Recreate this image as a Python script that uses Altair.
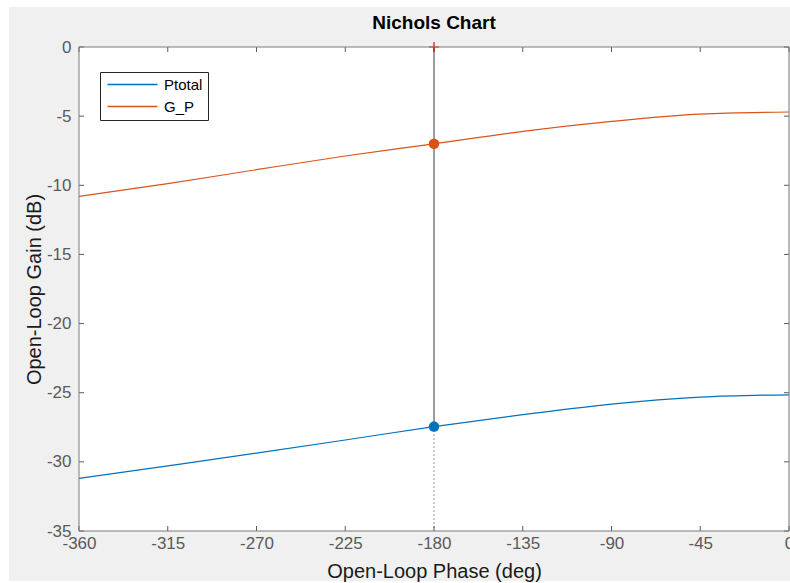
import altair as alt
import pandas as pd

# ---- data ----
phase = [-360, -315, -270, -225, -180, -135, -90, -45, 0]
ptotal = [-31.2, -30.29, -29.37, -28.42, -27.45, -26.59, -25.82, -25.32, -25.15]
g_p = [-10.8, -9.88, -8.87, -7.88, -7.0, -6.1, -5.38, -4.85, -4.7]
series_names = ["Ptotal", "G_P"]
series_colors = ["#0072BD", "#D95319"]

cursor_phase = [-180]
cursor_gain_ptotal = [-27.45]
cursor_gain_gp = [-7.0]

x_ticks = [-360, -315, -270, -225, -180, -135, -90, -45, 0]
y_ticks = [0, -5, -10, -15, -20, -25, -30, -35]
x_domain = [-360, 0]
y_domain = [-35, 0]

W, H = 710, 484
FONT = "Liberation Sans"

df = pd.DataFrame({
    "phase": phase + phase,
    "gain": ptotal + g_p,
    "series": [series_names[0]] * len(phase) + [series_names[1]] * len(phase),
})

xscale = alt.Scale(domain=x_domain, nice=False, zero=False)
yscale = alt.Scale(domain=y_domain, nice=False, zero=False)

x_axis = alt.Axis(values=x_ticks, tickSize=0, domain=False, grid=False, labelFlush=False,
                  labelExpr="toString(datum.value)",
                  labelFontSize=17, labelColor="#5a5a5a", labelPadding=4, labelFont=FONT,
                  title="Open-Loop Phase (deg)", titleFontSize=20, titleFontWeight="normal",
                  titleColor="#1a1a1a", titlePadding=10, titleFont=FONT, zindex=1)
y_axis = alt.Axis(values=y_ticks, tickSize=0, domain=False, grid=False, labelFlush=False,
                  labelExpr="toString(datum.value)",
                  labelFontSize=17, labelColor="#5a5a5a", labelPadding=8, labelFont=FONT,
                  title="Open-Loop Gain (dB)", titleFontSize=20, titleFontWeight="normal",
                  titleColor="#1a1a1a", titlePadding=2, titleFont=FONT, zindex=1)

X = alt.X("phase:Q", scale=xscale, axis=x_axis)
Y = alt.Y("gain:Q", scale=yscale, axis=y_axis)

one = alt.Data(values=[{}])

# figure background (gray) and white axes area
bg = alt.Chart(one).mark_rect(fill="#f0f0f0").encode(
    x=alt.value(-70), x2=alt.value(711), y=alt.value(-40), y2=alt.value(534))
plot_bg = alt.Chart(one).mark_rect(fill="white").encode(
    x=alt.value(0), x2=alt.value(W), y=alt.value(0), y2=alt.value(H))
border = alt.Chart(one).mark_rect(fillOpacity=0, stroke="#7a7a7a", strokeWidth=1).encode(
    x=alt.value(0), x2=alt.value(W), y=alt.value(0), y2=alt.value(H))

xt = pd.DataFrame({"phase": x_ticks})
yt = pd.DataFrame({"gain": y_ticks})
tick_color = "#5a5a5a"
xt_bottom = alt.Chart(xt).mark_rule(color=tick_color).encode(x=X, y=alt.value(H), y2=alt.value(H - 5))
xt_top = alt.Chart(xt).mark_rule(color=tick_color).encode(x=X, y=alt.value(0), y2=alt.value(5))
yt_left = alt.Chart(yt).mark_rule(color=tick_color).encode(y=Y, x=alt.value(0), x2=alt.value(5))
yt_right = alt.Chart(yt).mark_rule(color=tick_color).encode(y=Y, x=alt.value(W), x2=alt.value(W - 5))

lines = alt.Chart(df).mark_line(strokeWidth=1.2, interpolate="monotone").encode(
    x=X, y=Y,
    color=alt.Color("series:N", scale=alt.Scale(domain=series_names, range=series_colors),
                    legend=alt.Legend(orient="none", legendX=21, legendY=25, title=None,
                                      symbolType="M-1,0L9,0", symbolSize=100, symbolStrokeWidth=1.5,
                                      labelFontSize=15, labelFont=FONT, labelColor="black",
                                      strokeColor="#262626", fillColor="white", padding=5,
                                      rowPadding=6, labelOffset=44)),
    detail="series:N",
)

cur_top = pd.DataFrame({"phase": cursor_phase, "gain": [y_domain[1]], "g2": cursor_gain_ptotal})
cur_bot = pd.DataFrame({"phase": cursor_phase, "gain": cursor_gain_ptotal, "g2": [y_domain[0]]})
vline = alt.Chart(cur_top).mark_rule(color="#3a3a3a", strokeWidth=1).encode(x=X, y=Y, y2="g2:Q")
vdot = alt.Chart(cur_bot).mark_rule(color="#3a3a3a", strokeWidth=1, strokeDash=[1, 3]).encode(
    x=X, y=Y, y2="g2:Q")

pts_p = alt.Chart(pd.DataFrame({"phase": cursor_phase, "gain": cursor_gain_ptotal})).mark_point(
    filled=True, size=110, opacity=1, color=series_colors[0]).encode(x=X, y=Y)
pts_g = alt.Chart(pd.DataFrame({"phase": cursor_phase, "gain": cursor_gain_gp})).mark_point(
    filled=True, size=110, opacity=1, color=series_colors[1]).encode(x=X, y=Y)

plus = alt.Chart(pd.DataFrame({"phase": cursor_phase, "gain": [y_domain[1]]})).mark_point(
    shape="M-1,0L1,0M0,-1L0,1", size=100, filled=False, opacity=1, stroke="red",
    strokeWidth=1.2).encode(x=X, y=Y)

chart = alt.layer(
    bg, plot_bg, xt_bottom, xt_top, yt_left, yt_right, lines, vline, vdot, pts_p, pts_g, plus, border
).properties(
    width=W, height=H,
    title=alt.TitleParams("Nichols Chart", fontSize=19, fontWeight="bold", color="black",
                          font=FONT, anchor="middle", frame="group", baseline="alphabetic",
                          offset=-41),
    autosize=alt.AutoSizeParams(type="none"),
    padding={"left": 79, "top": 47, "right": 1, "bottom": 52},
).configure_view(stroke=None).configure(background="white")

chart.save("out.html", embed_options={"renderer": "svg", "actions": False})
